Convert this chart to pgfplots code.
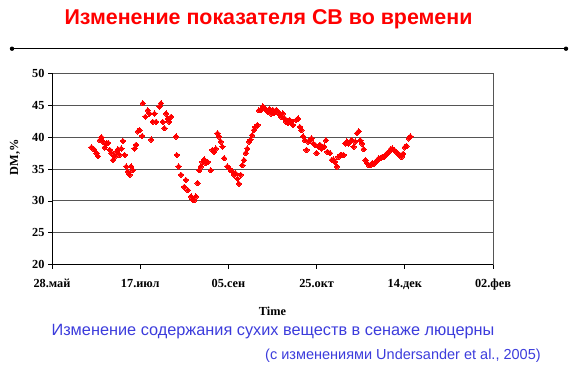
\documentclass[border=0pt]{standalone}
\usepackage{pgfplots}
\pgfplotsset{compat=1.18}
\usepackage{fontspec}
\setmainfont{Liberation Serif}
\newfontfamily\arial{Liberation Sans}
\definecolor{tblue}{HTML}{3C3CDC}
\definecolor{gridc}{HTML}{555555}
\begin{document}
\begin{tikzpicture}[x=1pt,y=1pt]
\path[use as bounding box] (0,0) rectangle (572,-367);
\node[text=red, font=\arial\bfseries\fontsize{21.4}{24}\selectfont] at (268.5,-19) {Изменение показателя СВ во времени};
\draw[line width=1.4pt] (12,-48.7) -- (566,-48.7);
\fill (12,-48.7) circle (2.2pt);
\fill (566,-48.7) circle (2.2pt);
\begin{axis}[
  at={(52pt,-264.7pt)}, anchor=south west,
  scale only axis, width=441pt, height=191.4pt,
  xmin=0, xmax=250, ymin=20, ymax=50,
  xtick={0,50,...,250},
  xticklabels={28.май,17.июл,05.сен,25.окт,14.дек,02.фев},
  ytick={20,25,...,50},
  tick pos=left, tick align=outside,
  major tick length=4pt,
  tick style={black, line width=0.8pt},
  ymajorgrids, grid style={gridc, line width=0.9pt},
  axis line style={gridc, line width=0.9pt},
  /pgf/number format/assume math mode=true,
  ticklabel style={font=\bfseries\fontsize{12.3}{14}\selectfont},
  xticklabel style={yshift=-7pt},
  xlabel={Time}, ylabel={DM,\%},
  label style={font=\bfseries\fontsize{12.3}{14}\selectfont},
  xlabel style={at={(axis description cs:0.5,-0.242)}, anchor=center},
  ylabel style={at={(axis description cs:-0.084,0.56)}, anchor=center},
]
\addplot[only marks, mark=square*, mark size=1.9pt, mark options={rotate=45, fill=red, draw=red, line width=0pt}] table {
x y
22.4 38.4
23.7 38.1
25.2 37.5
26.1 37.0
27.1 39.5
28.0 40.0
28.9 39.3
29.9 38.4
30.8 39.0
31.8 39.1
32.7 38.0
33.6 37.5
34.6 36.4
35.5 36.9
36.5 37.7
37.4 38.1
38.3 37.2
39.3 38.2
40.2 39.4
41.2 37.2
42.1 35.4
43.0 34.6
44.0 34.1
44.9 35.4
45.9 34.8
46.8 38.2
47.7 38.8
48.7 40.9
49.6 41.1
51.1 40.2
51.5 45.3
53.0 43.2
54.3 44.2
55.3 43.7
56.2 39.6
57.1 42.4
58.1 43.7
59.0 42.4
60.9 44.8
61.8 45.3
62.8 42.4
63.7 41.4
64.7 43.7
65.6 42.9
66.5 42.4
67.5 43.2
70.3 40.1
70.7 37.2
71.8 35.4
73.1 34.1
75.0 32.2
75.9 33.3
76.9 31.7
78.8 30.7
79.7 30.2
80.6 30.1
81.6 30.7
82.5 32.8
83.5 34.8
84.4 35.4
85.3 36.1
86.3 36.5
87.2 35.9
88.2 36.1
90.0 34.8
91.0 38.0
91.9 37.7
92.9 38.2
93.8 40.6
94.7 40.1
95.7 39.3
96.6 38.5
97.6 36.7
99.4 35.4
100.4 35.1
101.3 34.8
102.3 34.6
103.2 34.1
104.1 34.3
105.1 33.5
106.0 32.7
107.0 34.1
107.9 35.6
108.8 36.4
109.8 37.5
110.7 38.2
111.7 39.3
112.6 39.6
113.5 40.3
114.5 41.1
115.4 41.6
116.4 41.9
117.3 44.2
118.5 44.25
119.5 44.8
120.4 44.5
121.4 44.25
122.3 44.0
123.3 44.4
124.2 43.7
125.2 44.25
126.1 43.8
127.1 44.25
128.1 44.0
129.0 43.5
130.0 43.2
130.9 43.7
131.9 42.9
132.8 42.4
133.8 42.2
134.7 42.7
135.7 42.4
136.6 41.9
138.5 42.7
139.5 42.9
140.5 41.6
141.4 41.1
142.4 40.1
143.3 39.5
144.3 38.0
145.2 39.3
146.2 39.5
147.1 39.8
148.1 39.0
149.0 38.8
150.0 37.5
151.0 38.5
151.9 38.8
152.9 38.2
154.2 38.5
155.3 39.5
156.1 37.7
157.6 37.5
158.6 36.4
159.5 36.5
160.5 36.1
161.5 35.4
162.4 36.9
163.4 37.2
164.3 37.2
165.3 37.2
166.2 39.0
167.2 39.3
168.1 39.0
169.1 39.3
170.0 39.5
171.0 38.5
171.9 39.3
172.9 40.6
173.9 40.9
174.8 39.5
175.8 39.0
176.7 38.1
177.7 36.4
178.6 35.9
179.6 35.6
180.5 35.6
181.5 35.9
182.4 35.8
183.4 36.1
184.4 36.4
185.3 36.7
186.3 36.7
187.2 36.9
188.2 36.9
189.1 37.2
190.1 37.5
191.0 37.7
192.0 38.1
192.9 38.2
193.9 38.0
195.8 37.5
196.8 37.2
197.2 37.2
198.1 36.9
199.1 37.4
200.0 38.4
200.9 38.6
202.3 39.8
203.2 40.1
};
\draw[black, line width=0.9pt] (rel axis cs:0,0) -- (rel axis cs:0,1);
\draw[black, line width=0.9pt] (rel axis cs:0,0) -- (rel axis cs:1,0);
\end{axis}
\node[text=tblue, font=\arial\fontsize{16.3}{19}\selectfont] at (273,-332) {Изменение содержания сухих веществ в сенаже люцерны};
\node[text=tblue, font=\arial\fontsize{14.5}{17}\selectfont, anchor=west, inner sep=0pt] at (265,-356) {(с изменениями Undersander et al., 2005)};
\end{tikzpicture}
\end{document}
